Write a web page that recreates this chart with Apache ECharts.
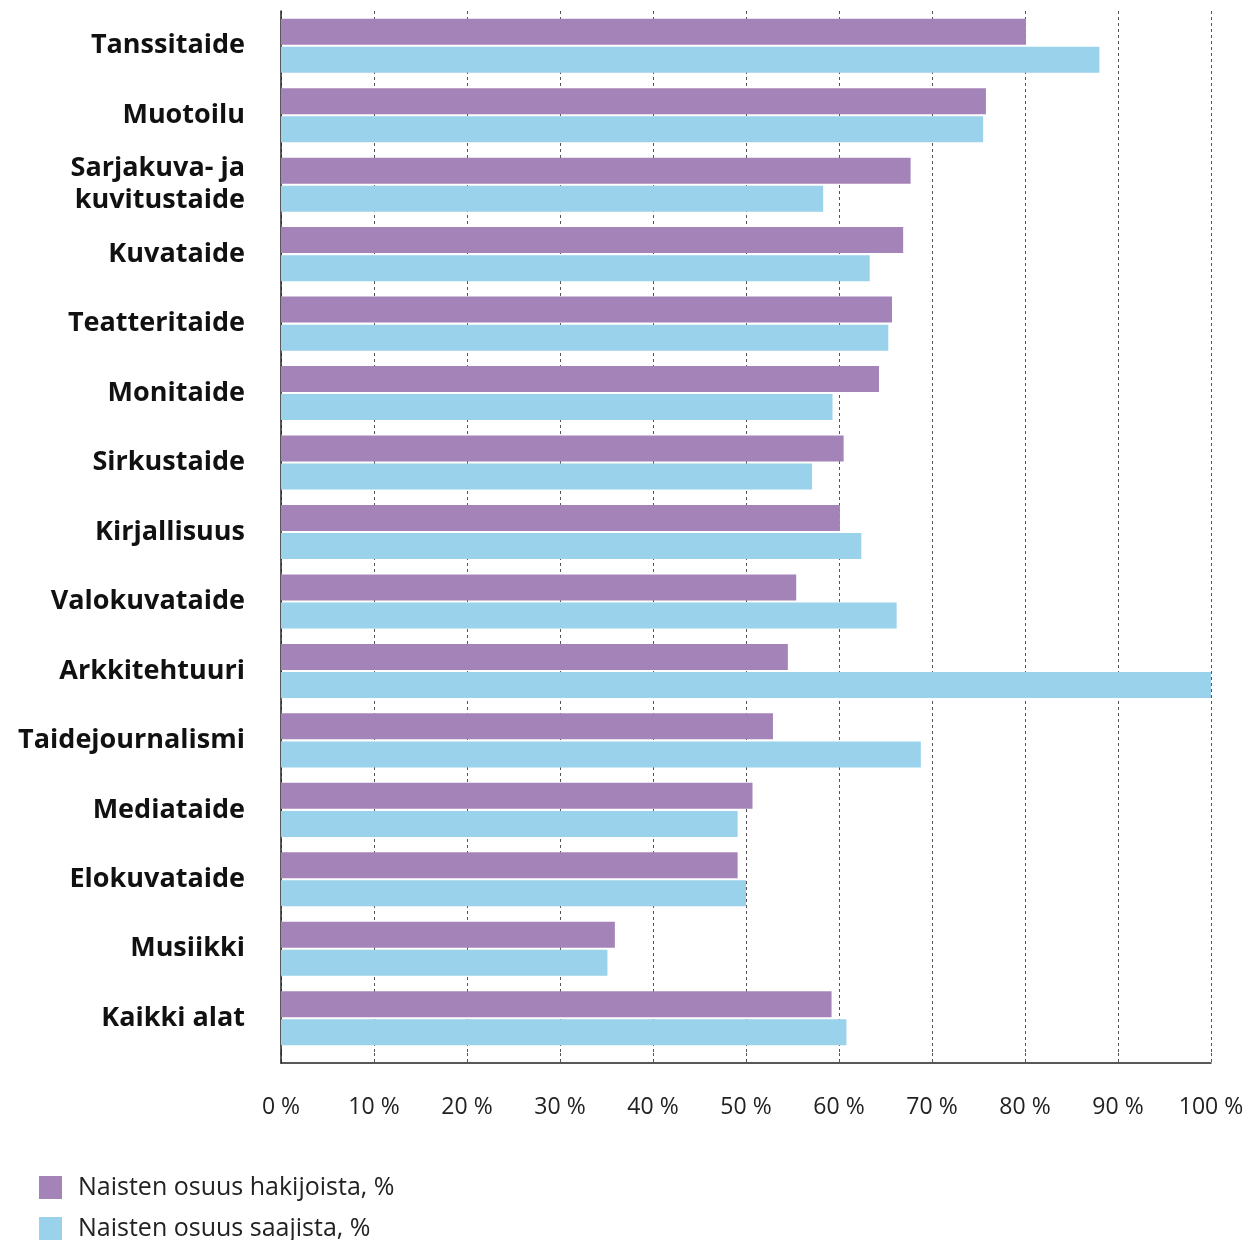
<!DOCTYPE html>
<html lang="fi">
<head>
    <meta charset="UTF-8">
    <title>Naisten osuus hakijoista ja saajista</title>
    <style>
        html, body { margin: 0; padding: 0; background: #fff; }
    </style>
</head>
<body>
    <div id="chart" style="width:1251px; height:1240px"></div>

    <script src="https://cdn.jsdelivr.net/npm/echarts@6/dist/echarts.min.js"></script>
    <script>
        // taiteenalat ylhäältä alas
        const categories = [
            'Tanssitaide', 'Muotoilu', 'Sarjakuva- ja\nkuvitustaide', 'Kuvataide', 'Teatteritaide',
            'Monitaide', 'Sirkustaide', 'Kirjallisuus', 'Valokuvataide', 'Arkkitehtuuri',
            'Taidejournalismi', 'Mediataide', 'Elokuvataide', 'Musiikki', 'Kaikki alat'
        ];

        // naisten osuus hakijoista, %
        const hakijat = [80.1, 75.8, 67.7, 66.9, 65.7, 64.3, 60.5, 60.1, 55.4, 54.5, 52.9, 50.7, 49.1, 35.9, 59.2];

        // naisten osuus saajista, %
        const saajat = [88.0, 75.5, 58.3, 63.3, 65.3, 59.3, 57.1, 62.4, 66.2, 100, 68.8, 49.1, 50.0, 35.1, 60.8];

        const seriesNames = ['Naisten osuus hakijoista, %', 'Naisten osuus saajista, %'];

        const font = '"Open Sans", "Noto Sans", sans-serif';
        const gridLine = { show: true, lineStyle: { color: '#555', type: [3, 3], width: 1 } };

        const chart = echarts.init(document.getElementById('chart'));

        // legenda: kaksi erillistä riviä allekkain
        const legendItem = (name, top) => ({
            orient: 'vertical',
            left: 39,
            top: top,
            padding: 0,
            icon: 'rect',
            itemWidth: 23,
            itemHeight: 23,
            textStyle: { fontSize: 25, color: '#222', padding: [0, 0, 0, 11] },
            data: [name]
        });

        chart.setOption({
            animation: false,
            textStyle: { fontFamily: font },
            // ylempi grid pylväille, alempi pieni grid akselin jatkeelle
            grid: [
                { left: 281, right: 40, top: 11, height: 1042 },
                { left: 281, right: 40, top: 1053, bottom: 177 }
            ],
            legend: [
                legendItem(seriesNames[0], 1175),
                legendItem(seriesNames[1], 1216)
            ],
            xAxis: [
                {
                    type: 'value',
                    gridIndex: 0,
                    min: 0,
                    max: 100,
                    interval: 10,
                    axisLine: { show: false },
                    axisTick: { show: false },
                    axisLabel: { show: false },
                    splitLine: gridLine
                },
                {
                    type: 'value',
                    gridIndex: 1,
                    min: 0,
                    max: 100,
                    interval: 10,
                    axisLine: { show: true, lineStyle: { color: '#222', width: 1.5 } },
                    axisTick: { show: false },
                    axisLabel: {
                        formatter: '{value} %',
                        fontSize: 23,
                        color: '#222',
                        margin: 33
                    },
                    splitLine: gridLine
                }
            ],
            yAxis: [
                {
                    type: 'category',
                    gridIndex: 0,
                    inverse: true,
                    data: categories,
                    axisLine: { show: true, lineStyle: { color: '#222', width: 1.5 } },
                    axisTick: { show: false },
                    axisLabel: {
                        fontSize: 27,
                        fontWeight: 'bold',
                        color: '#111',
                        margin: 36,
                        lineHeight: 32
                    }
                },
                {
                    type: 'value',
                    gridIndex: 1,
                    min: 0,
                    max: 1,
                    axisLine: { show: true, lineStyle: { color: '#222', width: 1.5 } },
                    axisTick: { show: false },
                    axisLabel: { show: false },
                    splitLine: { show: false }
                }
            ],
            series: [
                {
                    name: seriesNames[0],
                    type: 'bar',
                    xAxisIndex: 0,
                    yAxisIndex: 0,
                    data: hakijat,
                    barWidth: 26,
                    barGap: '8%',
                    itemStyle: { color: '#a484b8' }
                },
                {
                    name: seriesNames[1],
                    type: 'bar',
                    xAxisIndex: 0,
                    yAxisIndex: 0,
                    data: saajat,
                    barWidth: 26,
                    barGap: '8%',
                    itemStyle: { color: '#9ad1eb' }
                }
            ]
        });
    </script>
</body>
</html>
